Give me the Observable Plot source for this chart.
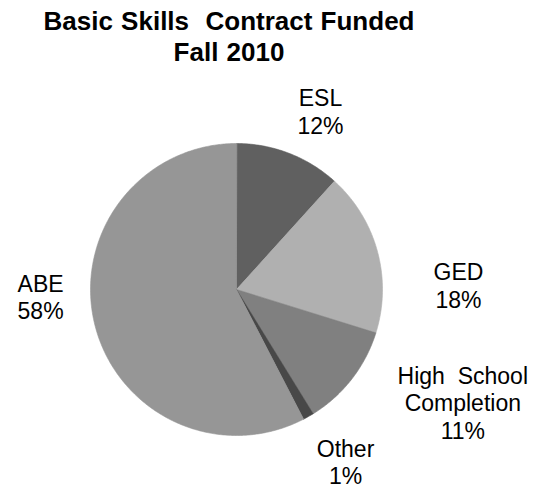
<!DOCTYPE html>
<html>
<head>
<meta charset="utf-8">
<script src="https://cdn.jsdelivr.net/npm/d3@7"></script>
<script src="https://cdn.jsdelivr.net/npm/@observablehq/plot@0.6"></script>
<style>
  html, body { margin: 0; padding: 0; background: #fff; }
  #title {
    width: 458px; height: 75px; box-sizing: border-box; padding-top: 6px;
    text-align: center; font-family: "Liberation Sans", Arial, sans-serif;
    font-weight: bold; font-size: 26px; line-height: 31px; color: #000;
    word-spacing: 1px;
  }
  #chart svg { display: block; }
</style>
</head>
<body>
<div id="title">Basic Skills&nbsp; Contract Funded<br>Fall 2010</div>
<div id="chart"></div>
<script>
// Data (clockwise from 12 o'clock)
const categories = ["ESL", "GED", "High School Completion", "Other", "ABE"];
const values = [11.7, 18.1, 11.4, 1.2, 57.6];
const labels = ["ESL\n12%", "GED\n18%", "High  School\nCompletion\n11%", "Other\n1%", "ABE\n58%"];

// Styles / layout (kept separate from data)
const sliceColors = ["#606060", "#b0b0b0", "#808080", "#484848", "#969696"];
const labelPos = [[0.575, 1.22], [1.52, 0.03], [1.55, -0.774], [0.747, -1.178], [-1.342, -0.048]];

const pie = d3.pie().sort(null).value(d => d.value).startAngle(0).endAngle(2 * Math.PI);
const rows = categories.map((c, i) => ({ name: c, value: values[i] }));
const arcs = pie(rows);

// Build polygon outlines of each slice in unit coordinates
const pts = [];
arcs.forEach(a => {
  pts.push({ name: a.data.name, x: 0, y: 0 });
  const n = Math.max(4, Math.ceil((a.endAngle - a.startAngle) / 0.01));
  for (let k = 0; k <= n; k++) {
    const t = a.startAngle + (a.endAngle - a.startAngle) * k / n;
    pts.push({ name: a.data.name, x: Math.sin(t), y: Math.cos(t) });
  }
});

const labelData = categories.map((c, i) => ({ name: c, text: labels[i], x: labelPos[i][0], y: labelPos[i][1] }));

const plot = Plot.plot({
  width: 543,
  height: 416,
  marginLeft: 90,
  marginRight: 161,
  marginTop: 68,
  marginBottom: 56,
  x: { domain: [-1, 1], axis: null },
  y: { domain: [-1, 1], axis: null },
  color: { domain: categories, range: sliceColors },
  style: { fontFamily: "'Liberation Sans', Arial, sans-serif", background: "#fff" },
  marks: [
    Plot.line(pts, { x: "x", y: "y", z: "name", fill: "name", stroke: "name", strokeWidth: 0.6, curve: "linear-closed" }),
    Plot.text(labelData, { x: "x", y: "y", text: "text", fontSize: 23, lineHeight: 1.2, fill: "#000", textAnchor: "middle" })
  ]
});
document.getElementById("chart").appendChild(plot);
</script>
</body>
</html>
